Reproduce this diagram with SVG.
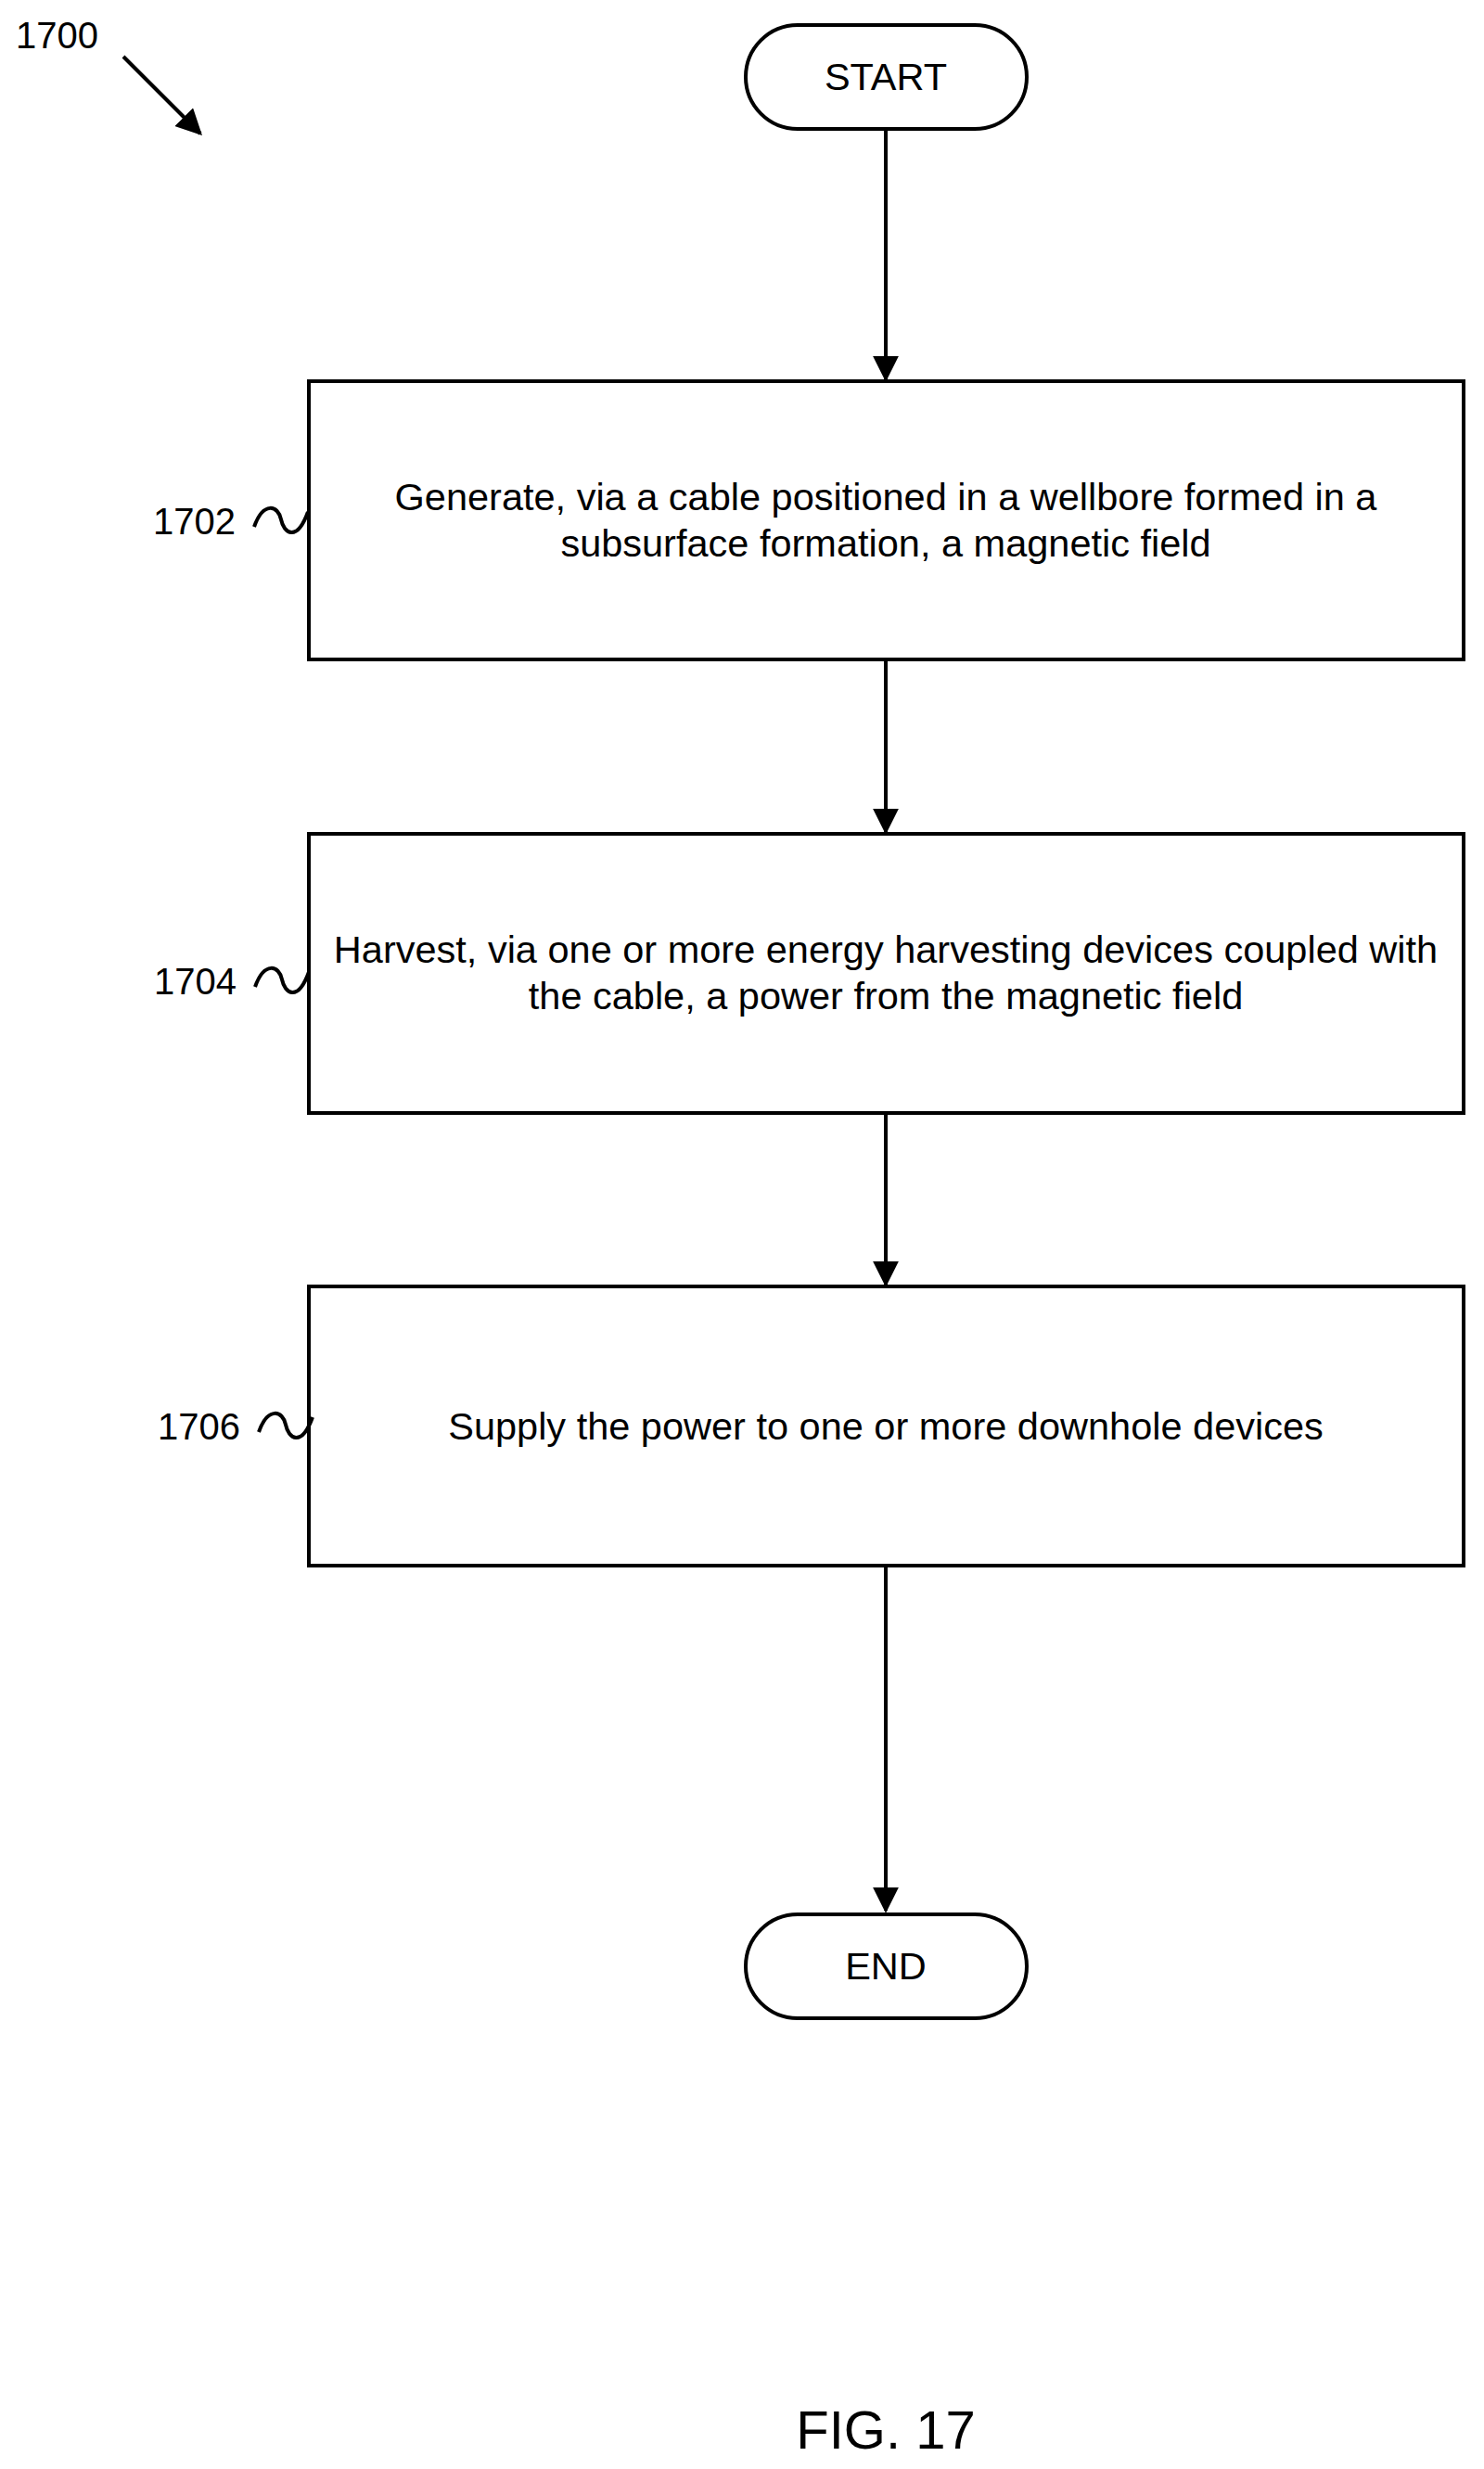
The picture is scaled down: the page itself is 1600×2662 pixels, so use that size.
<svg xmlns="http://www.w3.org/2000/svg" width="1600" height="2662" viewBox="0 0 1600 2662">
<style>
.b{fill:#fff;stroke:#000;stroke-width:4}
.t{font-family:"Liberation Sans",Arial,sans-serif;font-size:41.5px;text-anchor:middle;fill:#000}
.l{font-family:"Liberation Sans",Arial,sans-serif;font-size:40px;fill:#000}
.c{stroke:#000;stroke-width:4;fill:none}
</style>
<defs>
<marker id="m" viewBox="0 0 10 10" refX="9" refY="5" markerWidth="28" markerHeight="28" orient="auto" markerUnits="userSpaceOnUse"><path d="M0,0L10,5L0,10z"/></marker></defs>
<rect width="1600" height="2662" fill="#fff"/>
<g id="connectors">
<line class="c" x1="955" y1="139" x2="955" y2="409" marker-end="url(#m)"/>
<line class="c" x1="955" y1="711" x2="955" y2="897" marker-end="url(#m)"/>
<line class="c" x1="955" y1="1200" x2="955" y2="1385" marker-end="url(#m)"/>
<line class="c" x1="955" y1="1688" x2="955" y2="2060" marker-end="url(#m)"/>
<line class="c" x1="133" y1="61" x2="216" y2="144" marker-end="url(#m)"/>
</g>
<g id="start"><rect class="b" x="804" y="27" width="303" height="112" rx="56"/><text class="t" x="955" y="97">START</text></g>
<g id="n1702"><rect class="b" x="333" y="411" width="1245" height="300"/><text class="t" x="955" y="550">Generate, via a cable positioned in a wellbore formed in a</text><text class="t" x="955" y="600">subsurface formation, a magnetic field</text>
<text class="l" x="165" y="576">1702</text><path class="c" d="M274,568 C284,540 300,545 303,560 C306,575 320,585 332,552"/></g>
<g id="n1704"><rect class="b" x="333" y="899" width="1245" height="301"/><text class="t" x="955" y="1038">Harvest, via one or more energy harvesting devices coupled with</text><text class="t" x="955" y="1088">the cable, a power from the magnetic field</text>
<text class="l" x="166" y="1072">1704</text><path class="c" d="M275,1064 C285,1036 301,1041 304,1056 C307,1071 321,1081 333,1048"/></g>
<g id="n1706"><rect class="b" x="333" y="1387" width="1245" height="301"/><text class="t" x="955" y="1552">Supply the power to one or more downhole devices</text>
<text class="l" x="170" y="1552">1706</text><path class="c" d="M279,1544 C289,1516 305,1521 308,1536 C311,1551 325,1561 337,1528"/></g>
<g id="end"><rect class="b" x="804" y="2064" width="303" height="112" rx="56"/><text class="t" x="955" y="2134">END</text></g>
<text class="l" x="17" y="52">1700</text>
<text class="t" x="955" y="2640" style="font-size:58px">FIG. 17</text>
</svg>
